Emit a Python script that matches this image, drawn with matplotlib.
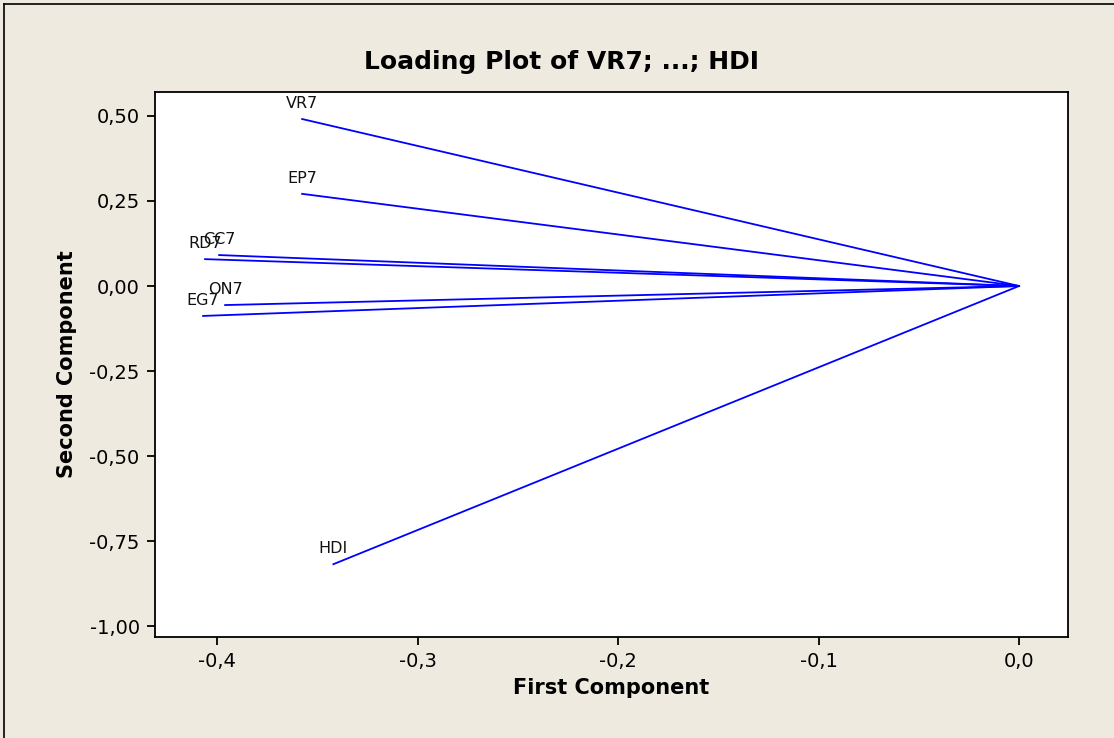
import matplotlib
matplotlib.use("Agg")
import matplotlib.pyplot as plt
from matplotlib.lines import Line2D

# loadings
variables = ["VR7", "EP7", "CC7", "RD7", "ON7", "EG7", "HDI"]
pc1 = [-0.3576, -0.3576, -0.399, -0.406, -0.396, -0.407, -0.342]
pc2 = [0.491, 0.271, 0.091, 0.079, -0.056, -0.088, -0.818]

xticks = [-0.4, -0.3, -0.2, -0.1, 0.0]
yticks = [0.50, 0.25, 0.00, -0.25, -0.50, -0.75, -1.00]
xticklabels = ["-0,4", "-0,3", "-0,2", "-0,1", "0,0"]
yticklabels = ["0,50", "0,25", "0,00", "-0,25", "-0,50", "-0,75", "-1,00"]

bg = "#eeeae0"
plt.rcParams["font.family"] = ["DejaVu Sans"]

fig = plt.figure(figsize=(11.14, 7.38), dpi=100, facecolor=bg)
ax = fig.add_axes([0.1391, 0.1369, 0.8196, 0.7385])
ax.set_facecolor("white")

# outer frame (only left/top visible in the original)
fig.add_artist(Line2D([4 / 1114, 4 / 1114], [0, 1 - 4 / 738], transform=fig.transFigure,
                      color="black", lw=1.2))
fig.add_artist(Line2D([4 / 1114, 1], [1 - 4 / 738, 1 - 4 / 738], transform=fig.transFigure,
                      color="black", lw=1.2))

for name, x, y in zip(variables, pc1, pc2):
    ax.plot([0, x], [0, y], color="#0000ff", lw=1.3)
    ax.annotate(name, (x, y), xytext=(0, 8), textcoords="offset points",
                ha="center", va="baseline", fontsize=11.5, color="#111111")

ax.set_xlim(-0.431, 0.0244)
ax.set_ylim(-1.032, 0.5706)
ax.set_xticks(xticks)
ax.set_xticklabels(xticklabels)
ax.set_yticks(yticks)
ax.set_yticklabels(yticklabels)
ax.tick_params(direction="out", length=6, width=1.3, labelsize=14, pad=5, colors="black")
for s in ax.spines.values():
    s.set_linewidth(1.3)

ax.set_xlabel("First Component", fontsize=15, fontweight="bold", labelpad=5)
ax.set_ylabel("Second Component", fontsize=15, fontweight="bold", labelpad=9)
fig.text(0.504, 0.916, "Loading Plot of VR7; ...; HDI", ha="center", va="center",
         fontsize=18, fontweight="bold")

fig.savefig("out.png", dpi=100, facecolor=bg)
